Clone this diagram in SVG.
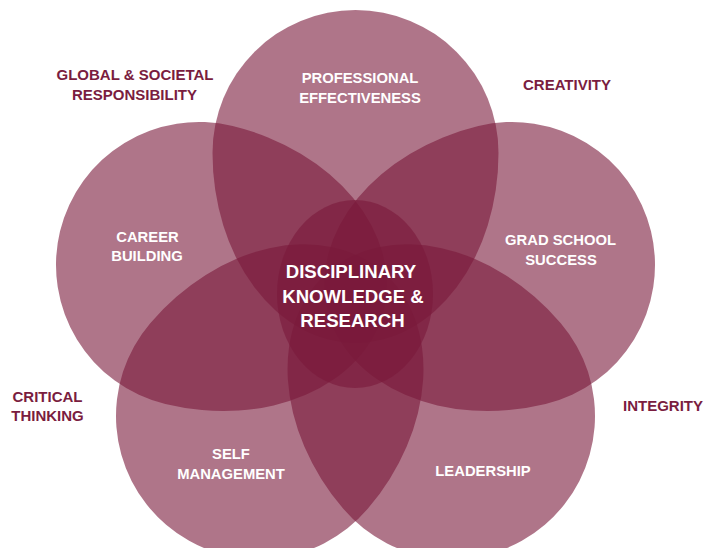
<svg xmlns="http://www.w3.org/2000/svg" width="706" height="548" viewBox="0 0 706 548">
<defs>
<path id="egg" d="M -143 0 A 143 143 0 0 1 143 0 A 143 190 0 0 1 -143 0 Z"/>
</defs>
<style>
.p{fill:#79193a;fill-opacity:0.6}
.in{font-family:"Liberation Sans",Arial,sans-serif;font-weight:700;font-size:14.8px;fill:#ffffff;text-anchor:middle}
.ctr{font-family:"Liberation Sans",Arial,sans-serif;font-weight:700;font-size:18.6px;fill:#ffffff;text-anchor:middle}
.out{font-family:"Liberation Sans",Arial,sans-serif;font-weight:700;font-size:15px;fill:#7a1d40;text-anchor:middle}
</style>
<rect width="706" height="548" fill="#ffffff"/>
<g id="petals">
<g id="professional"><use href="#egg" class="p" transform="translate(355.5 153)"/></g>
<g id="grad"><use href="#egg" class="p" transform="translate(512 265) rotate(76.4)"/></g>
<g id="leadership"><use href="#egg" class="p" transform="translate(452 416) rotate(139.5)"/></g>
<g id="self"><use href="#egg" class="p" transform="translate(259 416) rotate(-139.5)"/></g>
<g id="career"><use href="#egg" class="p" transform="translate(199 265) rotate(-76.4)"/></g>
<g id="core"><ellipse class="p" cx="355" cy="294" rx="78" ry="94"/></g>
</g>
<g id="labels-inner">
<text class="in" x="360" y="83">PROFESSIONAL</text>
<text class="in" x="360" y="103">EFFECTIVENESS</text>
<text class="in" x="147.5" y="242">CAREER</text>
<text class="in" x="147" y="261">BUILDING</text>
<text class="in" x="560.5" y="245">GRAD SCHOOL</text>
<text class="in" x="561" y="265">SUCCESS</text>
<text class="in" x="231" y="459">SELF</text>
<text class="in" x="231" y="479">MANAGEMENT</text>
<text class="in" x="483" y="476">LEADERSHIP</text>
<text class="ctr" x="351" y="278">DISCIPLINARY</text>
<text class="ctr" x="353" y="303">KNOWLEDGE &amp;</text>
<text class="ctr" x="352.5" y="327">RESEARCH</text>
</g>
<g id="labels-outer">
<text class="out" x="135" y="80">GLOBAL &amp; SOCIETAL</text>
<text class="out" x="134.5" y="100">RESPONSIBILITY</text>
<text class="out" x="567" y="90">CREATIVITY</text>
<text class="out" x="47.5" y="402">CRITICAL</text>
<text class="out" x="47.5" y="421">THINKING</text>
<text class="out" x="663" y="411">INTEGRITY</text>
</g>
</svg>
